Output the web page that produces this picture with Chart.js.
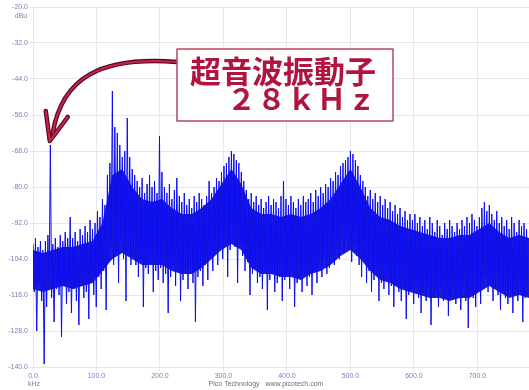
<!DOCTYPE html>
<html>
<head>
<meta charset="utf-8">
<script src="https://cdn.jsdelivr.net/npm/chart.js@4.4.1/dist/chart.umd.min.js"></script>
<style>
  html, body { margin: 0; padding: 0; background: #ffffff; }
  #wrap { position: relative; width: 529px; height: 390px; }
</style>
</head>
<body>
<div id="wrap"><canvas id="spec" width="529" height="390"></canvas></div>
<script>
// Spectrum span (kHz) and axis ticks
const spanKHz = 781.25;
const freqTicks = [0, 100, 200, 300, 400, 500, 600, 700];
const levelTicks = [-140, -128, -116, -104, -92, -80, -68, -56, -44, -32, -20];

// Trace peaks (dBu), one per 3.906 kHz bin, taken at the bin start
const upperDbu = [
  -99, -97, -100, -98, -101, -98, -96, -66, -99, -97,
  -100, -96, -98, -95, -97, -90, -97, -95, -98, -94,
  -96, -93, -95, -91, -94, -92, -88, -90, -84, -86,
  -76, -72, -48, -60, -62, -66, -70, -68, -57, -70,
  -74, -76, -78, -80, -77, -82, -79, -76, -80, -78,
  -82, -63, -75, -80, -82, -79, -84, -81, -77, -83,
  -85, -82, -86, -84, -87, -83, -85, -82, -84, -86,
  -83, -78, -82, -80, -77, -78, -75, -73, -72, -70,
  -68, -69, -71, -72, -75, -78, -81, -84, -82, -85,
  -83, -86, -84, -87, -85, -83, -86, -84, -85, -87,
  -83, -78, -84, -86, -83, -85, -87, -84, -86, -83,
  -85, -84, -82, -85, -81, -83, -80, -82, -79, -80,
  -77, -78, -75, -76, -73, -72, -71, -70, -68, -69,
  -71, -73, -76, -78, -80, -83, -81, -84, -82, -85,
  -83, -86, -84, -87, -85, -88, -86, -89, -87, -90,
  -88, -91, -89, -91, -89, -92, -90, -93, -91, -94,
  -90, -92, -95, -91, -93, -96, -92, -94, -91, -93,
  -95, -92, -94, -91, -93, -90, -92, -89, -91, -93,
  -90, -87, -85, -88, -86, -89, -91, -88, -92, -90,
  -93, -91, -94, -90, -92, -95, -91, -93, -92, -94
];

// Trace troughs (dBu), one per bin, taken half a bin later
const lowerDbu = [
  -115, -128, -112, -118, -139, -120, -113, -117, -125, -114,
  -116, -130, -113, -119, -115, -122, -114, -118, -126, -113,
  -117, -115, -124, -112, -116, -120, -110, -114, -108, -121,
  -104, -100, -106, -102, -112, -98, -104, -118, -101, -106,
  -103, -106, -110, -104, -120, -107, -109, -105, -115, -108,
  -111, -107, -112, -109, -122, -110, -106, -113, -108, -118,
  -111, -109, -114, -107, -112, -125, -110, -108, -113, -106,
  -111, -104, -108, -102, -106, -100, -104, -98, -110, -101,
  -97, -100, -112, -99, -103, -108, -105, -116, -109, -107,
  -112, -110, -114, -108, -121, -111, -109, -115, -112, -110,
  -118, -111, -109, -114, -108, -120, -112, -110, -115, -109,
  -113, -110, -116, -108, -112, -106, -110, -104, -109, -107,
  -103, -106, -100, -104, -98, -102, -97, -101, -105, -99,
  -103, -106, -110, -104, -112, -108, -115, -111, -109, -118,
  -112, -114, -110, -116, -113, -120, -112, -115, -118, -113,
  -124, -116, -114, -119, -113, -117, -122, -115, -118, -114,
  -126, -117, -115, -120, -114, -118, -116, -123, -117, -115,
  -119, -116, -121, -114, -118, -127, -115, -117, -120, -114,
  -119, -113, -110, -115, -112, -118, -114, -116, -121, -115,
  -117, -119, -114, -122, -116, -118, -115, -125, -117, -116
];

// Dense noise body of the trace (dBu), every 15.625 kHz
const coreTopDbu = [
  -101, -102, -101, -100, -100, -99, -98, -92, -76, -74,
  -80, -84, -85, -84, -87, -89, -89, -87, -84, -79,
  -74, -79, -87, -89, -89, -90, -89, -90, -89, -87,
  -84, -79, -74, -80, -87, -90, -91, -93, -94, -95,
  -96, -97, -97, -96, -96, -94, -92, -95, -97, -96,
  -97
];
const coreBottomDbu = [
  -114, -115, -114, -113, -114, -113, -112, -108, -104, -102,
  -104, -106, -106, -106, -108, -109, -109, -107, -104, -101,
  -99, -101, -107, -109, -109, -110, -110, -111, -109, -108,
  -106, -103, -101, -104, -108, -111, -112, -114, -115, -116,
  -117, -117, -118, -117, -117, -115, -113, -115, -117, -116,
  -117
];

// Interleave peaks and troughs into one trace
const halfBin = spanKHz / (upperDbu.length * 2);
const trace = [];
upperDbu.forEach((v, i) => {
  trace.push({ x: (2 * i) * halfBin, y: v });
  trace.push({ x: (2 * i + 1) * halfBin, y: lowerDbu[i] });
});
const coreStep = spanKHz / (coreTopDbu.length - 1);
const coreTop = coreTopDbu.map((v, k) => ({ x: k * coreStep, y: v }));
const coreBottom = coreBottomDbu.map((v, k) => ({ x: k * coreStep, y: v }));

const tickColor = '#7c7cb8';
const tickFont = { family: 'Liberation Sans', size: 7 };

// Callout box with curved arrow pointing at the 28 kHz line, plus axis captions
const callout = {
  id: 'callout',
  afterDraw(chart) {
    const ctx = chart.ctx;
    ctx.save();

    // captions
    ctx.fillStyle = tickColor;
    ctx.font = '7px "Liberation Sans"';
    ctx.textAlign = 'center';
    ctx.textBaseline = 'middle';
    ctx.fillText('dBu', 21, 16);
    ctx.fillText('kHz', 34, 384);
    ctx.fillStyle = '#6a6a80';
    ctx.fillText('Pico Technology   www.picotech.com', 266, 384);

    // arrow
    const xs = chart.scales.x;
    const tipX = xs.getPixelForValue(28) - 1;
    const tipY = 141;
    const path = () => {
      ctx.beginPath();
      ctx.moveTo(177, 62);
      ctx.bezierCurveTo(100, 56, 62, 78, tipX + 3, tipY - 8);
    };
    const head = () => {
      ctx.beginPath();
      ctx.moveTo(tipX - 4, tipY - 30);
      ctx.lineTo(tipX, tipY);
      ctx.lineTo(tipX + 18, tipY - 24);
    };
    ctx.lineCap = 'round';
    ctx.lineJoin = 'round';
    ctx.strokeStyle = '#4a0c1c';
    ctx.lineWidth = 4.5;
    path(); ctx.stroke();
    head(); ctx.stroke();
    ctx.strokeStyle = '#c8204e';
    ctx.lineWidth = 2.2;
    path(); ctx.stroke();
    head(); ctx.stroke();

    // box
    ctx.fillStyle = '#ffffff';
    ctx.fillRect(177, 49, 216, 72);
    ctx.strokeStyle = '#b8485f';
    ctx.lineWidth = 1.5;
    ctx.strokeRect(177, 49, 216, 72);

    // label
    ctx.fillStyle = '#b0143f';
    ctx.textAlign = 'left';
    ctx.textBaseline = 'alphabetic';
    ctx.font = 'bold 31px "Noto Sans CJK JP"';
    ctx.fillText('超音波振動子', 190, 83);
    ctx.font = 'bold 29px "Noto Sans CJK JP"';
    const chars = ['２', '８', 'ｋ', 'Ｈ', 'ｚ'];
    chars.forEach((c, i) => ctx.fillText(c, 227 + i * 30, 110));

    ctx.restore();
  }
};

new Chart(document.getElementById('spec'), {
  type: 'line',
  data: {
    datasets: [
      {
        data: trace,
        borderColor: '#0c0cf0',
        borderWidth: 1,
        pointRadius: 0,
        tension: 0,
        fill: false
      },
      {
        data: coreTop,
        borderColor: 'rgba(0,0,0,0)',
        borderWidth: 0,
        backgroundColor: 'rgba(8,8,215,0.92)',
        pointRadius: 0,
        tension: 0,
        fill: '+1'
      },
      {
        data: coreBottom,
        borderColor: 'rgba(0,0,0,0)',
        borderWidth: 0,
        pointRadius: 0,
        tension: 0,
        fill: false
      }
    ]
  },
  options: {
    responsive: false,
    animation: false,
    events: [],
    layout: { padding: { top: 7, right: 0, left: 0, bottom: 0 } },
    plugins: { legend: { display: false }, tooltip: { enabled: false } },
    scales: {
      x: {
        type: 'linear',
        min: 0,
        max: spanKHz,
        afterBuildTicks: (s) => { s.ticks = freqTicks.map(v => ({ value: v })); },
        afterFit: (s) => { s.height = 23; },
        grid: { color: '#e6e6ee', lineWidth: 1, tickLength: 4, drawTicks: true },
        border: { display: false },
        ticks: {
          color: tickColor,
          font: tickFont,
          padding: 1,
          maxRotation: 0,
          autoSkip: false,
          callback: (v) => Number(v).toFixed(1)
        }
      },
      y: {
        type: 'linear',
        min: -140,
        max: -20,
        afterBuildTicks: (s) => { s.ticks = levelTicks.map(v => ({ value: v })); },
        afterFit: (s) => { s.width = 33; },
        grid: { color: '#e6e6ee', lineWidth: 1, tickLength: 3 },
        border: { display: false },
        ticks: {
          color: tickColor,
          font: tickFont,
          padding: 2,
          autoSkip: false,
          callback: (v) => Number(v).toFixed(1)
        }
      }
    }
  },
  plugins: [callout]
});
</script>
</body>
</html>
